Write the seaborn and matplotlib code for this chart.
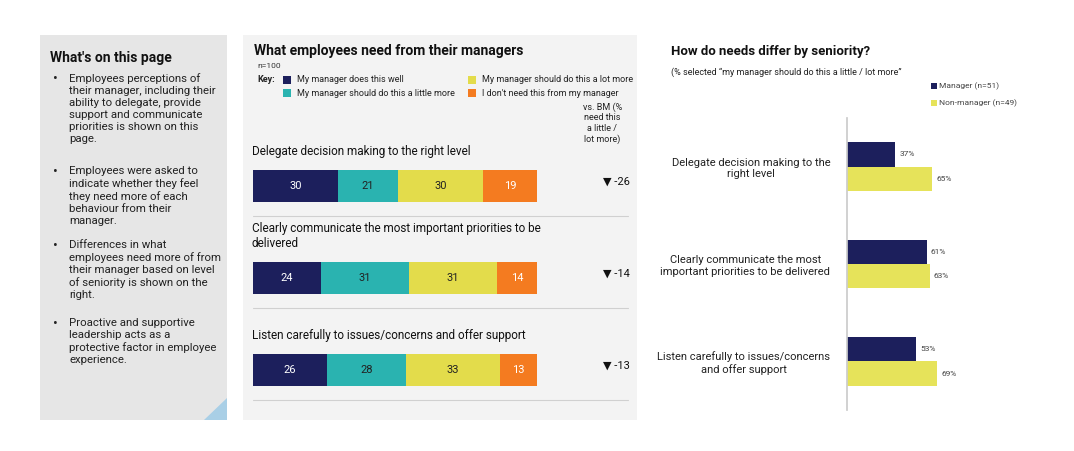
import matplotlib
matplotlib.use("Agg")
import matplotlib.pyplot as plt
import seaborn as sns
import pandas as pd
import numpy as np
from matplotlib.patches import Rectangle, Polygon

sns.set_theme(style="white")
plt.rcParams['font.family'] = ['Roboto', 'DejaVu Sans']

# ---- data ----
items = ["Delegate decision making to the right level",
         "Clearly communicate the most important priorities to be\ndelivered",
         "Listen carefully to issues/concerns and offer support"]
does_well = [30, 24, 26]
little_more = [21, 31, 28]
lot_more = [30, 31, 33]
not_need = [19, 14, 13]
vs_bm = ["▼ -26", "▼ -14", "▼ -13"]
key_labels = ["My manager does this well", "My manager should do this a little more",
              "My manager should do this a lot more", "I don't need this from my manager"]

sen_items = ["Delegate decision making to the\nright level",
             "Clearly communicate the most\nimportant priorities to be delivered",
             "Listen carefully to issues/concerns\nand offer support"]
manager = [37, 61, 53]
non_manager = [65, 63, 69]
groups = ["Manager (n=51)", "Non-manager (n=49)"]

bullets = ["Employees perceptions of\ntheir manager, including their\nability to delegate, provide\nsupport and communicate\npriorities is shown on this\npage.",
           "Employees were asked to\nindicate whether they feel\nthey need more of each\nbehaviour from their\nmanager.",
           "Differences in what\nemployees need more of from\ntheir manager based on level\nof seniority is shown on the\nright.",
           "Proactive and supportive\nleadership acts as a\nprotective factor in employee\nexperience."]

C = ["#1c1f5c", "#2ab3b0", "#e3dc4b", "#f47b20"]
C2 = ["#1c1f5c", "#e6e35a"]

W, H = 1074, 451
fig = plt.figure(figsize=(W/100, H/100), dpi=100)
fig.patch.set_facecolor("white")

def fx(x): return x / W
def fy(y): return 1 - y / H

# ---- left panel ----
fig.patches.append(Rectangle((fx(40), fy(420)), fx(187), (385)/H, transform=fig.transFigure,
                             facecolor="#e6e6e6", edgecolor="none", zorder=-5))
fig.patches.append(Polygon([[fx(227), fy(420)], [fx(227), fy(398)], [fx(204), fy(420)]],
                           closed=True, transform=fig.transFigure, facecolor="#a9cfe6", edgecolor="none", zorder=-4))
fig.text(fx(50), fy(58), "What's on this page", fontsize=10, fontweight="bold", va="center", color="#111")
by = [73, 166, 240, 318]
for y, b in zip(by, bullets):
    fig.text(fx(53), fy(y - 1), "•", fontsize=10, va="top", color="#222")
    fig.text(fx(69), fy(y), b, fontsize=8.2, va="top", color="#222", linespacing=1.25)

# ---- middle panel ----
fig.patches.append(Rectangle((fx(243), fy(420)), fx(394), 385/H, transform=fig.transFigure,
                             facecolor="#f3f3f3", edgecolor="none", zorder=-5))
fig.text(fx(254), fy(51), "What employees need from their managers", fontsize=10, fontweight="bold", va="center", color="#111")
fig.text(fx(257), fy(66), "n=100", fontsize=6, va="center", color="#333")
fig.text(fx(257), fy(80), "Key:", fontsize=6.5, fontweight="bold", va="center", color="#222")
kpos = [(283, 80), (283, 93), (468, 80), (468, 93)]
for (x, y), lab, col in zip(kpos, key_labels, C):
    fig.patches.append(Rectangle((fx(x), fy(y + 4)), fx(8), 8/H, transform=fig.transFigure,
                                 facecolor=col, edgecolor="none"))
    fig.text(fx(x + 14), fy(y), lab, fontsize=6.5, va="center", color="#222")
fig.text(fx(622), fy(123), "vs. BM (%\nneed this\na little /\nlot more)", fontsize=6.5, ha="right",
         va="center", multialignment="center", color="#222")

ax = fig.add_axes([fx(253), fy(416), fx(284), 276/H])
ax.set_zorder(2)
df = pd.DataFrame({"item": items, "a": does_well, "b": little_more, "c": lot_more, "d": not_need})
cum = np.cumsum(df[["a", "b", "c", "d"]].values, axis=1)
for k in range(3, -1, -1):
    sns.barplot(x=cum[:, k], y=df["item"], orient="h", color=C[k], width=0.35,
                saturation=1, ax=ax, edgecolor="none")
vals = df[["a", "b", "c", "d"]].values
for i in range(3):
    start = 0
    for k in range(4):
        v = vals[i, k]
        ax.text(start + v / 2, i, str(v), ha="center", va="center", fontsize=8,
                color="white" if k in (0, 3) else "#222")
        start += v
    ax.text(-0.5, i - 0.3, items[i], ha="left", va="bottom", fontsize=8.5, color="#111")
    ax.text(128, i - 0.05, vs_bm[i], ha="center", va="center", fontsize=8, color="#111")
    ax.plot([0, 132], [i + 0.33, i + 0.33], color="#d0d0d0", lw=0.8, clip_on=False)
ax.set_xlim(0, 100)
ax.set_ylim(2.5, -0.5)
ax.axis("off")

# ---- right panel ----
fig.text(fx(671), fy(51), "How do needs differ by seniority?", fontsize=9.5, fontweight="bold", va="center", color="#111")
fig.text(fx(671), fy(72), "(% selected \u201cmy manager should do this a little / lot more\u201d", fontsize=6.5, va="center", color="#222")
for (y, g, col) in [(86, groups[0], C2[0]), (103, groups[1], C2[1])]:
    fig.patches.append(Rectangle((fx(931), fy(y + 3)), fx(6), 6/H, transform=fig.transFigure,
                                 facecolor=col, edgecolor="none"))
    fig.text(fx(939), fy(y), g, fontsize=6, va="center", color="#444")

ax2 = fig.add_axes([fx(847), fy(410), fx(131), 292/H])
ax2.set_zorder(2)
df2 = pd.DataFrame({"item": sen_items * 2, "val": manager + non_manager,
                    "grp": [groups[0]] * 3 + [groups[1]] * 3})
sns.barplot(data=df2, x="val", y="item", hue="grp", orient="h", palette=C2, width=0.5,
            saturation=1, ax=ax2, legend=False, edgecolor="none")
for cont in ax2.containers:
    for bar in cont:
        w = bar.get_width()
        ax2.text(w + 3, bar.get_y() + bar.get_height() / 2, f"{int(round(w))}%",
                 va="center", ha="left", fontsize=6, color="#444")
ax2.set_xlim(0, 100)
ax2.set_xlabel("")
ax2.set_ylabel("")
ax2.set_xticks([])
for s in ["top", "right", "bottom"]:
    ax2.spines[s].set_visible(False)
ax2.spines["left"].set_color("#cccccc")
ax2.tick_params(axis="y", length=0, pad=12)
for t in ax2.get_yticklabels():
    t.set_multialignment("center")
    t.set_fontsize(8)
    t.set_color("#222")
ax2.set_facecolor("none")

fig.savefig("out.png", dpi=100, facecolor="white")
